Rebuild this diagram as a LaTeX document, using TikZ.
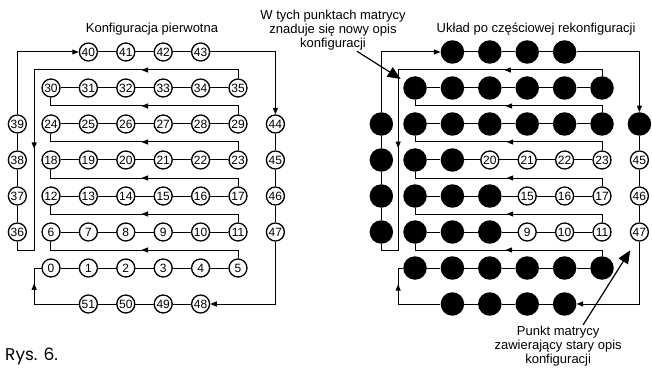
\documentclass[tikz,border=0pt]{standalone}
\usepackage{fontspec}
\setmainfont{Liberation Sans}
\newfontfamily\rysfont{Poppins}
\usetikzlibrary{
  arrows.meta,
  positioning,
  decorations.markings
}
\tikzset{
  cell/.style={
    draw, circle, line width=1.3pt, minimum size=18pt, inner sep=0pt,
    font=\fontsize{12}{12}\selectfont
  },
  full/.style={circle, fill=black, minimum size=23.5pt, inner sep=0pt},
  link/.style={line width=1pt},
  flow/.style={link, -{Triangle[length=6.5pt, width=5pt]}},
  midarrow/.style={
    link, postaction={decorate},
    decoration={markings, mark=at position #1 with {\arrow[xshift=3pt]{Triangle[length=6.5pt, width=5pt]}}}
  },
  midarrow/.default=0.5,
  heading/.style={font=\fontsize{13}{15}\selectfont},
  note/.style={font=\fontsize{13}{14}\selectfont, align=center, inner sep=1pt},
  pointer/.style={line width=1.2pt, -{Triangle[length=13pt, width=11pt]}}
}

\begin{document}
\begin{tikzpicture}[x=37.4pt, y=36pt]
  \useasboundingbox (-51pt,-63pt) rectangle (601pt,304pt);

  % left matrix: original configuration
  \foreach \n in {0,...,35} {
    \pgfmathtruncatemacro\cc{mod(\n,6)}
    \pgfmathtruncatemacro\rr{div(\n,6)+1}
    \node[cell] (l\n) at (\cc,\rr) {\n};
  }
  \foreach \n/\rr in {36/2, 37/3, 38/4, 39/5}
    \node[cell] (l\n) at (-0.9,\rr) {\n};
  \foreach \n/\cc in {40/1, 41/2, 42/3, 43/4}
    \node[cell] (l\n) at (\cc,7) {\n};
  \foreach \n/\rr in {44/5, 45/4, 46/3, 47/2}
    \node[cell] (l\n) at (6,\rr) {\n};
  \foreach \n/\cc in {48/4, 49/3, 50/2, 51/1}
    \node[cell] (l\n) at (\cc,0) {\n};

  % right matrix: filled cells already hold the new description
  \begin{scope}[xshift=364pt]
    \foreach \rr/\k in {1/6, 2/3, 3/3, 4/2, 5/6, 6/6}
      \foreach \cc in {0,...,5} {
        \pgfmathtruncatemacro\n{6*(\rr-1)+\cc}
        \ifnum\cc<\k\relax
          \node[full] (r\n) at (\cc,\rr) {};
        \else
          \node[cell] (r\n) at (\cc,\rr) {\n};
        \fi
      }
    \foreach \n/\rr in {36/2, 37/3, 38/4, 39/5}
      \node[full] (r\n) at (-0.9,\rr) {};
    \foreach \n/\cc in {40/1, 41/2, 42/3, 43/4}
      \node[full] (r\n) at (\cc,7) {};
    \node[full] (r44) at (6,5) {};
    \foreach \n/\rr in {45/4, 46/3, 47/2}
      \node[cell] (r\n) at (6,\rr) {\n};
    \foreach \n/\cc in {48/4, 49/3, 50/2, 51/1}
      \node[full] (r\n) at (\cc,0) {};
  \end{scope}

  % the snake through both matrices
  \foreach \p/\dx in {l/0pt, r/364pt} {
    \begin{scope}[xshift=\dx]
      \foreach \rr in {0,...,5}
        \foreach \cc in {0,...,4} {
          \pgfmathtruncatemacro\na{6*\rr+\cc}
          \pgfmathtruncatemacro\nb{\na+1}
          \draw[link] (\p\na) -- (\p\nb);
        }
      \foreach \na in {36,37,38,40,41,42,44,45,46,48,49,50} {
        \pgfmathtruncatemacro\nb{\na+1}
        \draw[link] (\p\na) -- (\p\nb);
      }
      % row returns
      \foreach \na in {5,11,17,23,29} {
        \pgfmathtruncatemacro\nb{\na+1}
        \draw[midarrow] (\p\na) -- ++(0,0.5) -| (\p\nb);
      }
      \coordinate (\p top) at (-0.45,6.5);
      \coordinate (\p low) at (-0.45,1.5);
      \draw[midarrow=0.48] (\p35) |- (\p top);
      \draw[midarrow=0.37] (\p top) -- (\p low) -| (\p36);
      \draw[flow] (\p39) |- (\p40);
      \draw[flow] (\p43) -| (\p44);
      \draw[flow] (\p47) |- (\p48);
      \draw[midarrow=0.71] (\p51) -| (-0.45,1) -- (\p0);
    \end{scope}
  }

  \node[heading] (oldtitle) at (2.7,7.64) {Konfiguracja pierwotna};
  \node[heading] (newtitle) at (12.97,7.64) {Układ po częściowej rekonfiguracji};

  \node[note] (newnote) at (7.54,7.61) {W tych punktach matrycy\\znaduje się nowy opis\\konfiguracji};
  \draw[pointer, shorten >=5pt] ([xshift=24pt]newnote.south) -- (r30);

  \node[note] (oldnote) at (13.56,-1.17) {Punkt matrycy\\zawierający stary opis\\konfiguracji};
  \draw[pointer, shorten >=11pt] ([xshift=25pt]oldnote.north) -- (r47.250);

  \node[font=\rysfont\fontsize{17}{17}\selectfont, anchor=base west, inner sep=0pt] (rys) at (-1.23,-1.56) {Rys. 6.};
\end{tikzpicture}
\end{document}
